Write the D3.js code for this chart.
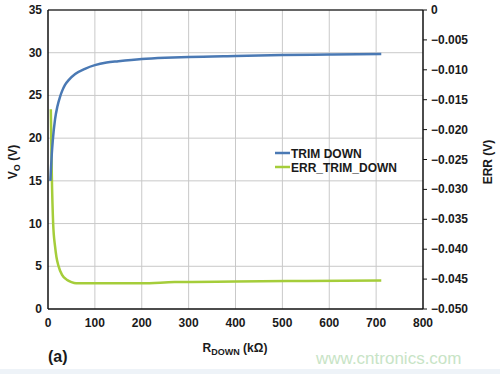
<!DOCTYPE html>
<html>
<head>
<meta charset="utf-8">
<script src="https://cdn.jsdelivr.net/npm/d3@7"></script>
<style>
  body { margin: 0; background: #fff; }
  svg text { font-family: "Liberation Sans", Arial, sans-serif; font-weight: bold; fill: #1a1a1a; }
</style>
</head>
<body>
<div id="chart"></div>
<script>
// R_DOWN (kOhm) vs V_O (V)
var trimR = [5, 8, 10, 15, 20, 26, 30, 36, 45, 58, 80, 100, 125, 150, 200, 250, 300, 400, 500, 600, 711];
var trimV = [15, 18.1, 19.6, 22.2, 23.7, 24.9, 25.5, 26.2, 26.85, 27.5, 28.15, 28.55, 28.85, 29.0, 29.25, 29.4, 29.5, 29.62, 29.72, 29.78, 29.85];

// R_DOWN (kOhm) vs ERR (V)
var errR = [6, 8, 11, 15, 18, 22, 30, 40, 50, 60, 100, 200, 270, 400, 550, 711];
var errV = [-0.0166, -0.0270, -0.0357, -0.0395, -0.0413, -0.0427, -0.0443, -0.0451, -0.0455, -0.0457, -0.0457, -0.0457, -0.0455, -0.0454, -0.0453, -0.04525];

var xTicks = [0, 100, 200, 300, 400, 500, 600, 700, 800];
var leftTicks = [0, 5, 10, 15, 20, 25, 30, 35];
var rightTicks = [0, -0.005, -0.010, -0.015, -0.020, -0.025, -0.030, -0.035, -0.040, -0.045, -0.050];
var seriesNames = ["TRIM DOWN", "ERR_TRIM_DOWN"];
var seriesColors = ["#4a79b4", "#a5cd3a"];

var W = 500, H = 374,
  pL = 48, pR = 423, pT = 10, pB = 309;

var svg = d3.select("#chart").append("svg")
  .attr("width", W)
  .attr("height", H);

// light band at the bottom of the picture
svg.append("rect")
  .attr("x", 0).attr("y", 369).attr("width", W).attr("height", 5)
  .attr("fill", "#eef3f8");

var x = d3.scaleLinear().domain([0, 800]).range([pL, pR]);
var yL = d3.scaleLinear().domain([0, 35]).range([pB, pT]);
var yR = d3.scaleLinear().domain([-0.05, 0]).range([pB, pT]);

// grid
svg.append("g").selectAll("line")
  .data(xTicks.filter(function(d){ return d > 0 && d < 800; }))
  .enter().append("line")
  .attr("x1", function(d){ return x(d); })
  .attr("x2", function(d){ return x(d); })
  .attr("y1", pT).attr("y2", pB)
  .attr("stroke", "#c9c9c9").attr("stroke-width", 1);

svg.append("g").selectAll("line")
  .data(leftTicks.filter(function(d){ return d > 0 && d < 35; }))
  .enter().append("line")
  .attr("x1", pL).attr("x2", pR)
  .attr("y1", function(d){ return yL(d); })
  .attr("y2", function(d){ return yL(d); })
  .attr("stroke", "#c9c9c9").attr("stroke-width", 1);

// frame
svg.append("line").attr("x1", pL).attr("x2", pR).attr("y1", pT).attr("y2", pT)
  .attr("stroke", "#333").attr("stroke-width", 1.5);
svg.append("line").attr("x1", pL).attr("x2", pR).attr("y1", pB).attr("y2", pB)
  .attr("stroke", "#111").attr("stroke-width", 1.5);
svg.append("line").attr("x1", pL).attr("x2", pL).attr("y1", pT).attr("y2", pB)
  .attr("stroke", "#111").attr("stroke-width", 1.5);
svg.append("line").attr("x1", pR).attr("x2", pR).attr("y1", pT).attr("y2", pB)
  .attr("stroke", "#111").attr("stroke-width", 1.5);

// right axis tick marks
svg.append("g").selectAll("line")
  .data(rightTicks)
  .enter().append("line")
  .attr("x1", pR).attr("x2", pR + 4)
  .attr("y1", function(d){ return yR(d); })
  .attr("y2", function(d){ return yR(d); })
  .attr("stroke", "#111").attr("stroke-width", 1);

// tick labels
svg.append("g").selectAll("text")
  .data(xTicks)
  .enter().append("text")
  .attr("x", function(d){ return x(d); })
  .attr("y", 327)
  .attr("text-anchor", "middle")
  .style("font-size", "12px")
  .text(function(d){ return d; });

svg.append("g").selectAll("text")
  .data(leftTicks)
  .enter().append("text")
  .attr("x", 42)
  .attr("y", function(d){ return yL(d) + 4; })
  .attr("text-anchor", "end")
  .style("font-size", "12px")
  .text(function(d){ return d; });

svg.append("g").selectAll("text")
  .data(rightTicks)
  .enter().append("text")
  .attr("x", 431)
  .attr("y", function(d){ return yR(d) + 4; })
  .attr("text-anchor", "start")
  .style("font-size", "12px")
  .text(function(d){ return d === 0 ? "0" : "\u2212" + d3.format(".3f")(-d); });

// axis titles
var yt = svg.append("text")
  .attr("transform", "translate(17,162) rotate(-90)")
  .attr("text-anchor", "middle")
  .style("font-size", "12px");
yt.append("tspan").text("V");
yt.append("tspan").attr("dy", 3).style("font-size", "9px").text("O");
yt.append("tspan").attr("dy", -3).text(" (V)");

svg.append("text")
  .attr("transform", "translate(492,162) rotate(-90)")
  .attr("text-anchor", "middle")
  .style("font-size", "12px")
  .text("ERR (V)");

var xt = svg.append("text")
  .attr("x", 235).attr("y", 352)
  .attr("text-anchor", "middle")
  .style("font-size", "12px");
xt.append("tspan").text("R");
xt.append("tspan").attr("dy", 3).style("font-size", "9px").text("DOWN");
xt.append("tspan").attr("dy", -3).text(" (k\u03A9)");

svg.append("text")
  .attr("x", 48).attr("y", 362)
  .style("font-size", "16px")
  .text("(a)");

svg.append("text")
  .attr("x", 316).attr("y", 364)
  .style("font-size", "17px")
  .style("font-weight", "normal")
  .style("fill", "#c8e4c6")
  .text("www.cntronics.com");

// series
var lineL = d3.line()
  .x(function(d){ return x(d[0]); })
  .y(function(d){ return yL(d[1]); })
  .curve(d3.curveMonotoneX);
var lineR = d3.line()
  .x(function(d){ return x(d[0]); })
  .y(function(d){ return yR(d[1]); })
  .curve(d3.curveMonotoneX);

svg.append("path")
  .datum(errR.map(function(r, i){ return [r, errV[i]]; }))
  .attr("d", lineR)
  .attr("fill", "none")
  .attr("stroke", seriesColors[1])
  .attr("stroke-width", 2.5);

svg.append("path")
  .datum(trimR.map(function(r, i){ return [r, trimV[i]]; }))
  .attr("d", lineL)
  .attr("fill", "none")
  .attr("stroke", seriesColors[0])
  .attr("stroke-width", 2.5);

// legend
var leg = svg.append("g").selectAll("g")
  .data(seriesNames)
  .enter().append("g")
  .attr("transform", function(d, i){ return "translate(275," + (153 + i * 14) + ")"; });
leg.append("line")
  .attr("x1", 0).attr("x2", 15)
  .attr("stroke", function(d, i){ return seriesColors[i]; })
  .attr("stroke-width", 2.5);
leg.append("text")
  .attr("x", 16).attr("y", 4.5)
  .style("font-size", "12px")
  .text(function(d){ return d; });
</script>
</body>
</html>
